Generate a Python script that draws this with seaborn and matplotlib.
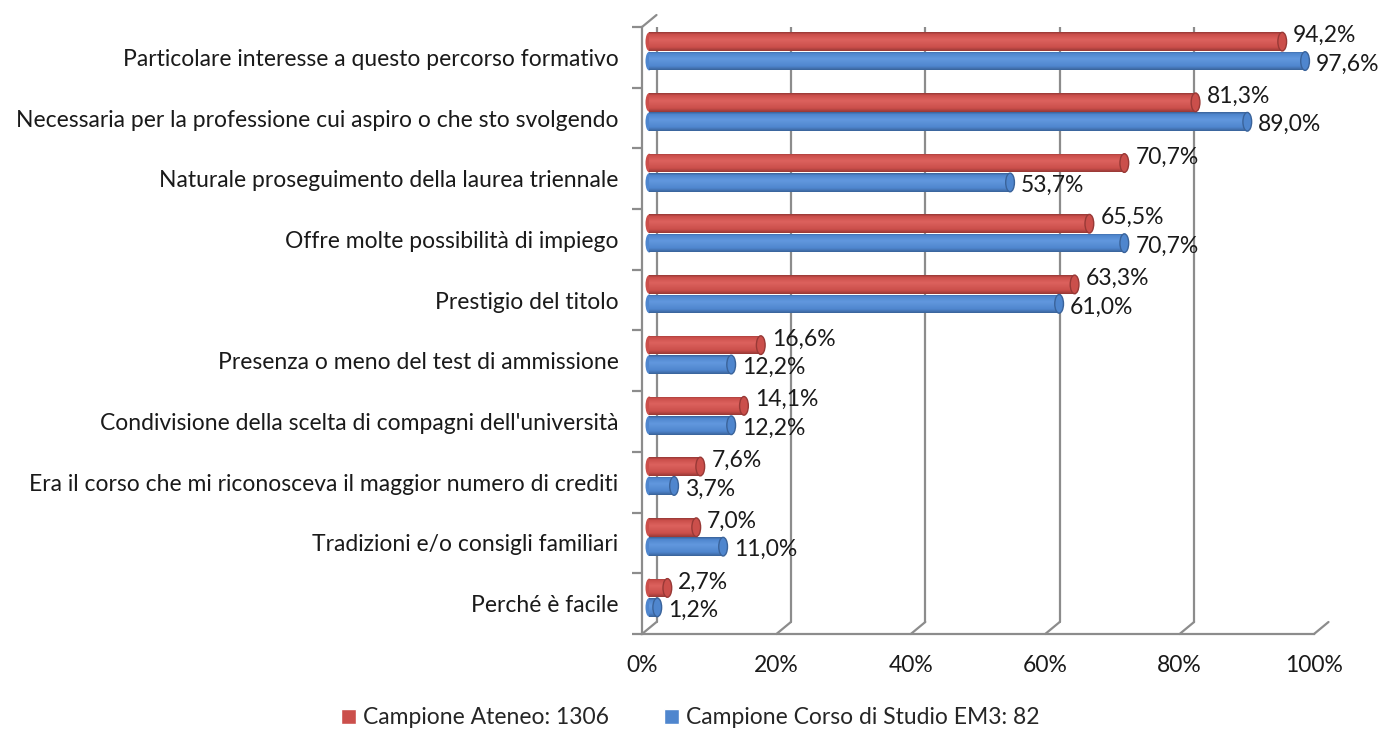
import numpy as np
import pandas as pd
import matplotlib
matplotlib.use('Agg')
import matplotlib.pyplot as plt
import matplotlib.transforms as mtransforms
from matplotlib.colors import LinearSegmentedColormap
from matplotlib.patches import Ellipse, Patch
import seaborn as sns

categories = [
    "Particolare interesse a questo percorso formativo",
    "Necessaria per la professione cui aspiro o che sto svolgendo",
    "Naturale proseguimento della laurea triennale",
    "Offre molte possibilità di impiego",
    "Prestigio del titolo",
    "Presenza o meno del test di ammissione",
    "Condivisione della scelta di compagni dell'università",
    "Era il corso che mi riconosceva il maggior numero di crediti",
    "Tradizioni e/o consigli familiari",
    "Perché è facile",
]
ateneo = [94.2, 81.3, 70.7, 65.5, 63.3, 16.6, 14.1, 7.6, 7.0, 2.7]
em3 = [97.6, 89.0, 53.7, 70.7, 61.0, 12.2, 12.2, 3.7, 11.0, 1.2]
series = ["Campione Ateneo: 1306", "Campione Corso di Studio EM3: 82"]
x_ticks = [0, 20, 40, 60, 80, 100]
x_labels = ["0%", "20%", "40%", "60%", "80%", "100%"]

df = pd.DataFrame({
    "cat": categories * 2,
    "val": ateneo + em3,
    "serie": [series[0]] * len(categories) + [series[1]] * len(categories),
})

sns.set_style("white")
plt.rcParams["font.family"] = ["Lato", "DejaVu Sans"]
fs = 16.5

base = ["#CB4F4B", "#4F86CE"]
light = ["#DC625E", "#6298DE"]
dark = ["#983936", "#3A639A"]
grid_col = "#8C8C8C"

fig = plt.figure(figsize=(13.8, 7.31), dpi=100)
ax = fig.add_axes([642 / 1380, 1 - 634 / 731, 672 / 1380, 607 / 731])

sns.barplot(data=df, y="cat", x="val", hue="serie", palette=base, orient="h",
            width=0.64, gap=0.04, ax=ax, legend=False)
ax.set_xlim(0, 100)
ax.set_ylim(9.5, -0.5)

# pseudo 3D: bars sit halfway into the depth, grid on the back wall
mid = ax.transData + mtransforms.ScaledTranslation(0.072, 0.06, fig.dpi_scale_trans)
back = ax.transData + mtransforms.ScaledTranslation(0.145, 0.12, fig.dpi_scale_trans)

for t in x_ticks:
    ax.plot([t, t], [9.5, -0.5], color=grid_col, lw=1.6, transform=back, zorder=0)
    ax.annotate("", xy=(t, 9.5), xytext=(14.5, 12), textcoords="offset pixels",
                arrowprops=dict(arrowstyle="-", color=grid_col, lw=1.6, shrinkA=0, shrinkB=0),
                zorder=0)
ax.annotate("", xy=(0, -0.5), xytext=(14.5, 12), textcoords="offset pixels",
            arrowprops=dict(arrowstyle="-", color=grid_col, lw=1.6, shrinkA=0, shrinkB=0),
            zorder=0)

for i, cont in enumerate(ax.containers):
    cmap = LinearSegmentedColormap.from_list(
        "cyl%d" % i, [(0, dark[i]), (0.12, base[i]), (0.4, light[i]),
                      (0.8, base[i]), (1, dark[i])])
    grad = np.linspace(0, 1, 60).reshape(-1, 1)
    vals = ateneo if i == 0 else em3
    for p, v in zip(cont.patches, vals):
        x0, y0, w, h = p.get_x(), p.get_y(), p.get_width(), p.get_height()
        p.set_transform(mid)
        p.set_facecolor("none")
        p.set_edgecolor("none")
        im = ax.imshow(grad, extent=[x0, x0 + w, y0 + h, y0], transform=mid,
                       aspect="auto", cmap=cmap, origin="upper", zorder=2)
        im.set_clip_path(p)
        ax.add_patch(Ellipse((x0, y0 + h / 2), 1.1, h, transform=mid,
                             facecolor=base[i], edgecolor="none", zorder=1.9))
        ax.add_patch(Ellipse((x0 + w, y0 + h / 2), 1.3, h, transform=mid,
                             facecolor=base[i], edgecolor=dark[i], lw=1, zorder=2.1))
        lbl = ("%.1f%%" % v).replace(".", ",")
        ax.annotate(lbl, xy=(x0 + w, y0 + h / 2), xycoords=mid,
                    xytext=(11, 6 if i == 0 else -3), textcoords="offset pixels",
                    ha="left", va="center", fontsize=fs, color="#1a1a1a")

ax.set_xlim(0, 100)
ax.set_ylim(9.5, -0.5)

for s in ["top", "right"]:
    ax.spines[s].set_visible(False)
for s in ["left", "bottom"]:
    ax.spines[s].set_color(grid_col)
    ax.spines[s].set_linewidth(1.6)

ax.set_xticks(x_ticks)
ax.set_xticklabels(x_labels)
ax.set_yticks(range(len(categories)))
ax.set_yticklabels(categories)
ax.set_yticks(np.arange(-0.5, 10, 1), minor=True)
ax.tick_params(axis="x", direction="out", length=8, width=1.6, color=grid_col,
               pad=7, labelsize=fs, labelcolor="#1a1a1a")
ax.tick_params(axis="y", which="major", length=0, pad=17, labelsize=fs, labelcolor="#1a1a1a")
ax.tick_params(axis="y", which="minor", direction="out", length=7, width=1.6, color=grid_col, left=True)
ax.set_xlabel("")
ax.set_ylabel("")

handles = [Patch(facecolor=base[i], label=series[i]) for i in range(2)]
fig.legend(handles=handles, loc="center", bbox_to_anchor=(0.5, 1 - 718 / 731), ncol=2,
           frameon=False, fontsize=fs, handlelength=0.65, handleheight=0.65,
           handletextpad=0.3, columnspacing=2.4)

fig.savefig("out.png", dpi=100)
